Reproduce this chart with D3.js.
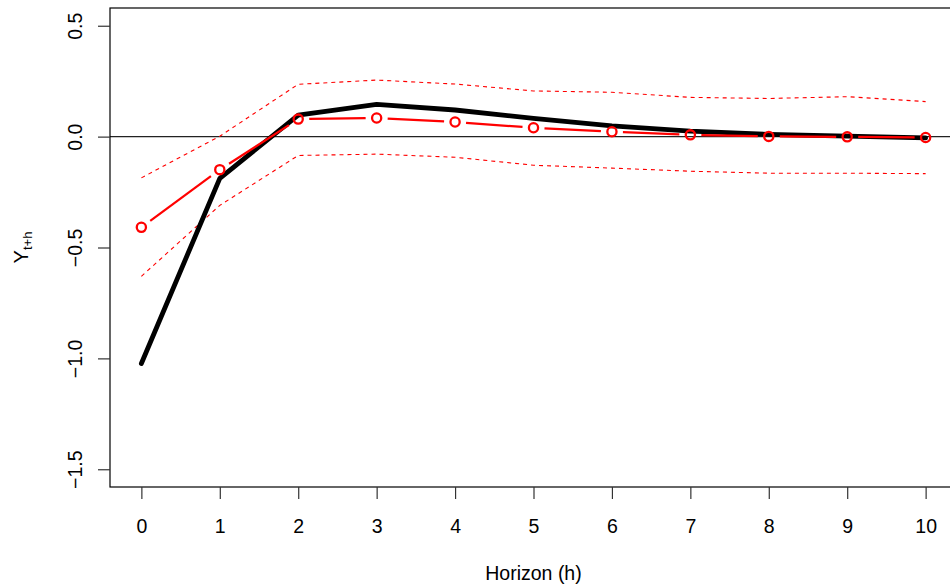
<!DOCTYPE html>
<html>
<head>
<meta charset="utf-8">
<script src="https://cdn.jsdelivr.net/npm/d3@7"></script>
<style>
  html, body { margin: 0; padding: 0; background: #fff; }
  svg { display: block; font-family: "Liberation Sans", Arial, sans-serif; }
</style>
</head>
<body>
<svg id="chart" width="950" height="586"></svg>
<script>
// Impulse responses over horizons 0..10
const horizons = [0, 1, 2, 3, 4, 5, 6, 7, 8, 9, 10];
const trueResponse = [-1.023, -0.188, 0.097, 0.145, 0.120, 0.082, 0.048, 0.025, 0.010, 0.002, -0.006];
const estimate     = [-0.409, -0.149, 0.079, 0.084, 0.066, 0.040, 0.022, 0.008, 0.001, -0.001, -0.004];
const upperBand    = [-0.186, 0.002, 0.236, 0.255, 0.237, 0.206, 0.200, 0.177, 0.172, 0.180, 0.158];
const lowerBand    = [-0.630, -0.310, -0.085, -0.079, -0.093, -0.129, -0.142, -0.156, -0.165, -0.165, -0.167];
const xTicks = [0, 1, 2, 3, 4, 5, 6, 7, 8, 9, 10];
const yTicks = [0.5, 0.0, -0.5, -1.0, -1.5];

const svg = d3.select("#chart");
const W = 950, H = 586;
const plot = { left: 110, right: 957, top: 8, bottom: 487 };

svg.append("rect").attr("width", W).attr("height", H).attr("fill", "#fff");

const x = d3.scaleLinear().domain([-0.4, 10.4]).range([plot.left, plot.right]);
const y = d3.scaleLinear().domain([-1.58, 0.58]).range([plot.bottom, plot.top]);

svg.append("defs").append("clipPath").attr("id", "plotclip")
  .append("rect")
  .attr("x", plot.left).attr("y", plot.top)
  .attr("width", plot.right - plot.left).attr("height", plot.bottom - plot.top);

const g = svg.append("g").attr("clip-path", "url(#plotclip)");

// zero reference line
g.append("line")
  .attr("x1", plot.left).attr("x2", plot.right)
  .attr("y1", y(0)).attr("y2", y(0))
  .attr("stroke", "#222").attr("stroke-width", 1.1);

const line = d3.line().x((d, i) => x(horizons[i])).y(d => y(d));

// confidence bands
[upperBand, lowerBand].forEach(band => {
  g.append("path")
    .attr("d", line(band))
    .attr("fill", "none")
    .attr("stroke", "#ff0000")
    .attr("stroke-width", 1.1)
    .attr("stroke-dasharray", "4,4");
});

// true response
g.append("path")
  .attr("d", line(trueResponse))
  .attr("fill", "none")
  .attr("stroke", "#000")
  .attr("stroke-width", 4.8)
  .attr("stroke-linejoin", "round")
  .attr("stroke-linecap", "round");

// estimated response: segments with gaps around the points
const gap = 11;
const segs = [];
for (let i = 0; i < horizons.length - 1; i++) {
  const x0 = x(horizons[i]), y0 = y(estimate[i]);
  const x1 = x(horizons[i + 1]), y1 = y(estimate[i + 1]);
  const len = Math.hypot(x1 - x0, y1 - y0);
  if (len <= 2 * gap) continue;
  const ux = (x1 - x0) / len, uy = (y1 - y0) / len;
  segs.push({ x1: x0 + ux * gap, y1: y0 + uy * gap, x2: x1 - ux * gap, y2: y1 - uy * gap });
}
g.selectAll("line.est").data(segs).enter().append("line")
  .attr("class", "est")
  .attr("x1", d => d.x1).attr("y1", d => d.y1)
  .attr("x2", d => d.x2).attr("y2", d => d.y2)
  .attr("stroke", "#ff0000").attr("stroke-width", 2.2);

g.selectAll("circle.est").data(estimate).enter().append("circle")
  .attr("class", "est")
  .attr("cx", (d, i) => x(horizons[i]))
  .attr("cy", d => y(d))
  .attr("r", 4.6)
  .attr("fill", "none")
  .attr("stroke", "#ff0000")
  .attr("stroke-width", 2.3);

// frame
svg.append("rect")
  .attr("x", plot.left).attr("y", plot.top)
  .attr("width", plot.right - plot.left).attr("height", plot.bottom - plot.top)
  .attr("fill", "none").attr("stroke", "#000").attr("stroke-width", 1.2);

// x axis
const xAxis = d3.axisBottom(x).tickValues(xTicks).tickSize(12).tickPadding(20)
  .tickFormat(d3.format("d"));
const xg = svg.append("g").attr("transform", `translate(0,${plot.bottom})`).call(xAxis);
xg.select(".domain").remove();
xg.selectAll(".tick line").attr("stroke", "#333").attr("stroke-width", 1.2);
xg.selectAll(".tick text").attr("font-size", "19.5px").attr("fill", "#000")
  .attr("font-family", "Liberation Sans, Arial, sans-serif");

// y axis
const yAxis = d3.axisLeft(y).tickValues(yTicks).tickSize(12).tickPadding(16)
  .tickFormat(d => d3.format(".1f")(d).replace("-", "\u2212"));
const yg = svg.append("g").attr("transform", `translate(${plot.left},0)`).call(yAxis);
yg.select(".domain").remove();
yg.selectAll(".tick line").attr("stroke", "#333").attr("stroke-width", 1.2);
yg.selectAll(".tick text")
  .attr("font-size", "19.5px").attr("fill", "#000")
  .attr("font-family", "Liberation Sans, Arial, sans-serif")
  .attr("x", null).attr("dy", null)
  .attr("text-anchor", "middle")
  .attr("transform", "translate(-28,0) rotate(-90)");

// axis titles
svg.append("text")
  .attr("x", (plot.left + plot.right) / 2)
  .attr("y", 580)
  .attr("text-anchor", "middle")
  .attr("font-size", "19.5px")
  .text("Horizon (h)");

const yt = svg.append("text")
  .attr("transform", `translate(28,${(plot.top + plot.bottom) / 2}) rotate(-90)`)
  .attr("text-anchor", "middle")
  .attr("font-size", "20px");
yt.append("tspan").text("Y");
yt.append("tspan").attr("font-size", "13px").attr("dy", 4).text("t+h");
</script>
</body>
</html>
